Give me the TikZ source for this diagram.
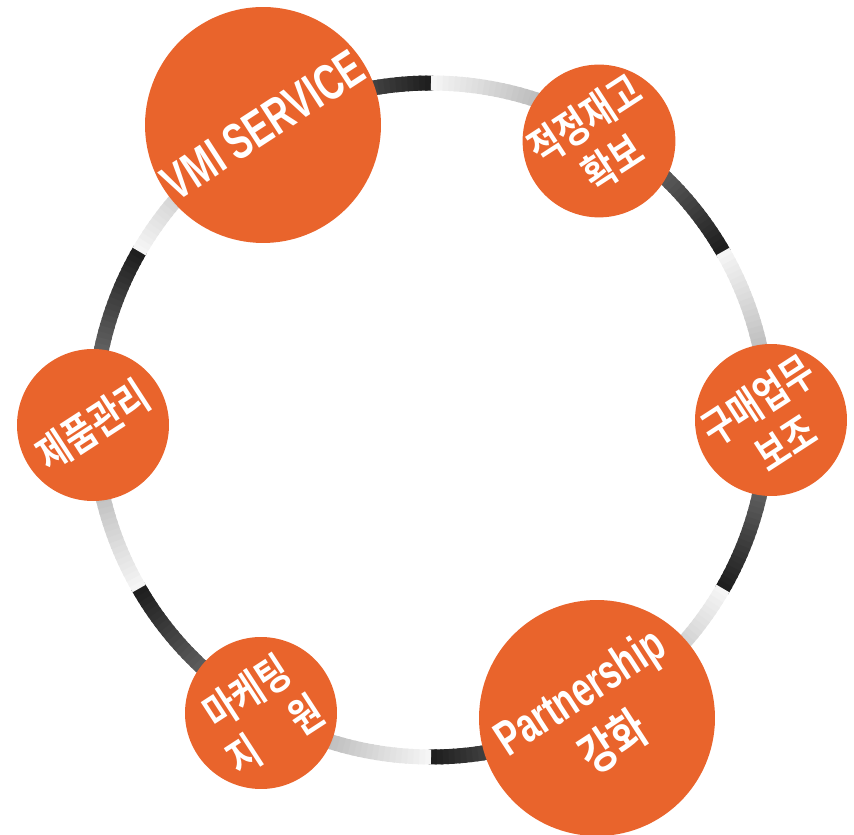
\documentclass[tikz,border=0pt]{standalone}
\usepackage{fontspec}
\newfontfamily\kr{Noto Sans CJK KR Bold}[FakeStretch=0.8]
\newfontfamily\lat{Liberation Sans Bold}[FakeStretch=0.7]
\definecolor{spotorange}{RGB}{233,100,44}

\begin{document}
\begin{tikzpicture}[x=0.02cm, y=0.02cm,
  ring/.style={line width=0.3cm},
  spot/.style={circle, fill=spotorange, text=white, inner sep=0pt, rotate=33, align=center,
    font=\kr\fontsize{24}{29}\selectfont},
  bigspot/.style={spot, minimum size=4.72cm},
  smallspot/.style={spot, minimum size=3.04cm}]

  \useasboundingbox (-431,-414) rectangle (423,420);
  \clip (-431,-414) rectangle (423,420);

  % ring: dark half, then light half, between two neighbours
  \foreach \k in {0,...,5}{
    \foreach \s in {0,...,29}{
      \pgfmathsetmacro\a{120-60*\k-\s}
      \pgfmathsetmacro\p{45+43*\s/29}
      \draw[ring, black!\p] (\a:337) arc[start angle=\a, end angle=\a-1.4, radius=337];
    }
    \foreach \s in {0,...,29}{
      \pgfmathsetmacro\a{90-60*\k-\s}
      \pgfmathsetmacro\p{4+36*\s/29}
      \draw[ring, black!\p] (\a:337) arc[start angle=\a, end angle=\a-1.4, radius=337];
    }
  }

  \foreach \n/\x/\y/\st/\t in {
      vmi/-168/295/bigspot/{\lat\fontsize{29}{29}\selectfont VMI SERVICE},
      stock/168/279/smallspot/{적정재고\\확보},
      buy/340/0/smallspot/{구매업무\\보조},
      part/166/-298/bigspot/{{\lat\fontsize{28}{28}\selectfont Partnership}\\[6pt]{\fontsize{27}{29}\selectfont 강화}},
      mkt/-170/-293/smallspot/{마케팅\\지\hspace{1em}원},
      prod/-338/-5/smallspot/{제품관리}}
    \node[\st] (\n) at (\x,\y) {\t};

\end{tikzpicture}
\end{document}
